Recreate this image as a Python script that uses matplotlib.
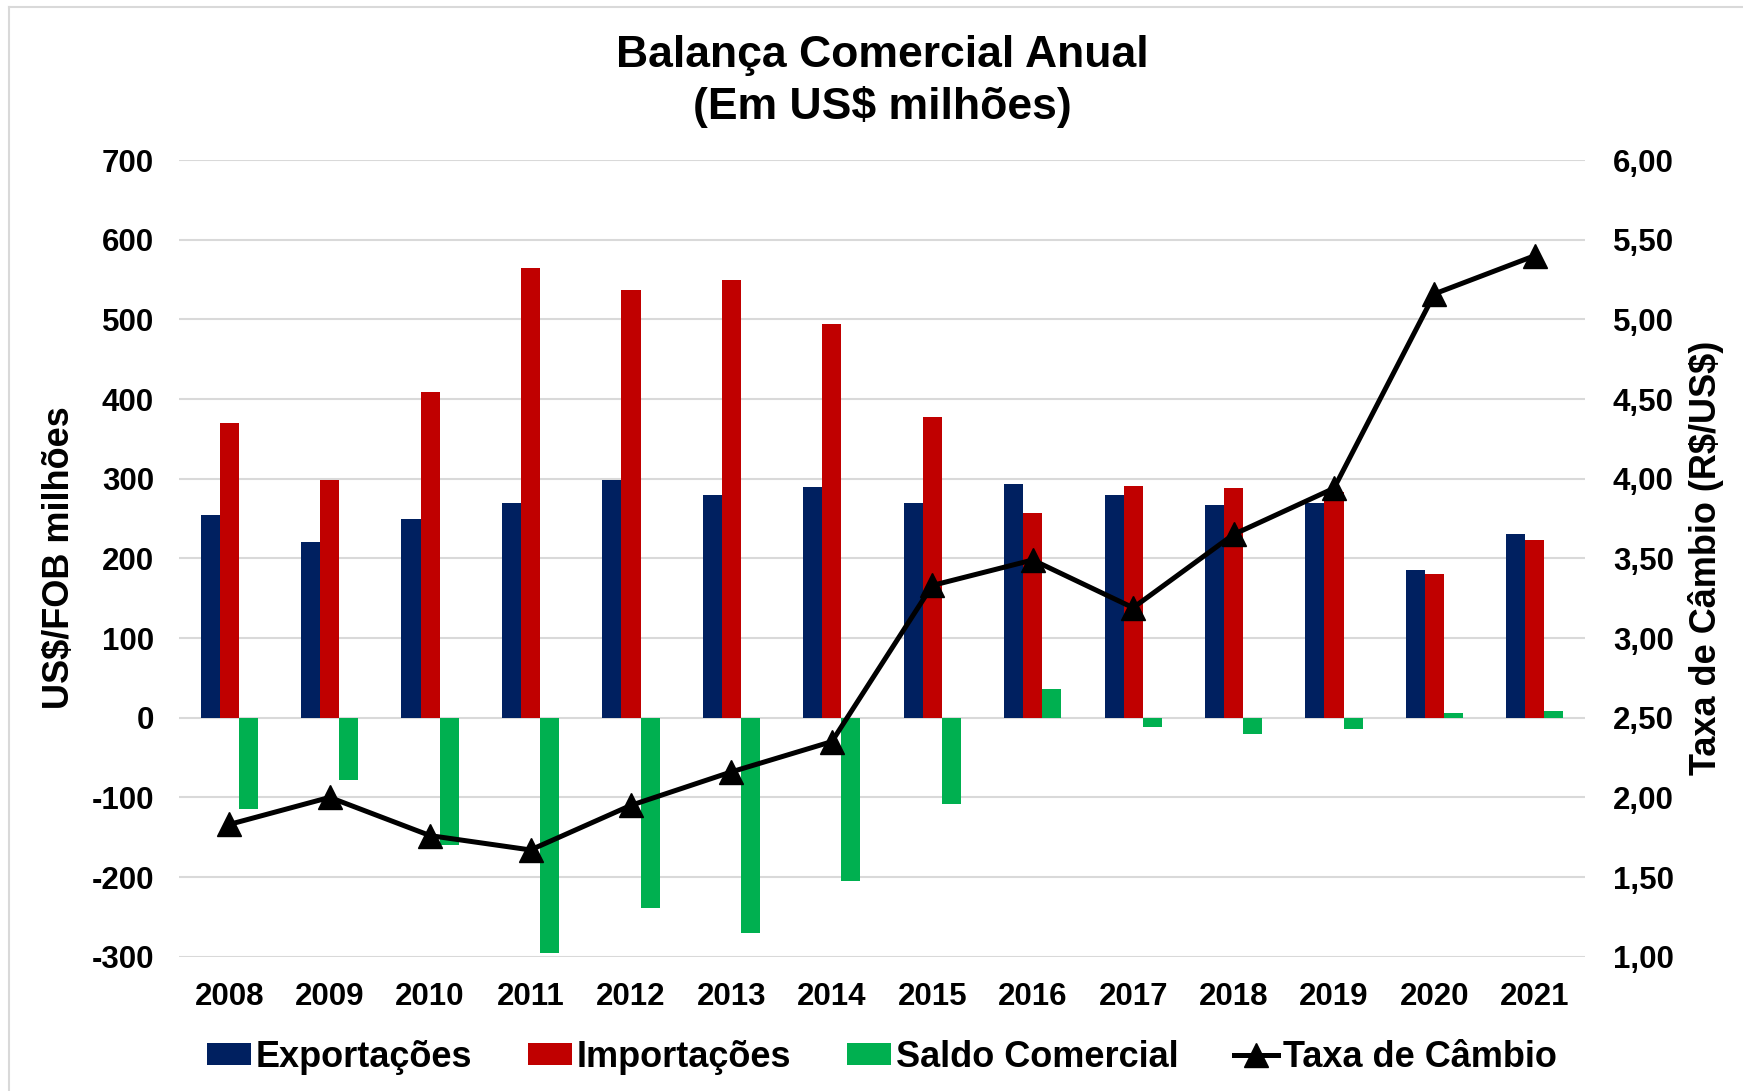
import matplotlib
matplotlib.use("Agg")
import matplotlib.pyplot as plt
from matplotlib.lines import Line2D
from matplotlib.ticker import FuncFormatter, MultipleLocator
import numpy as np

plt.rcParams['font.family'] = ['Liberation Sans', 'DejaVu Sans']
plt.rcParams['font.weight'] = 'bold'
plt.rcParams['axes.unicode_minus'] = False

years = ['2008', '2009', '2010', '2011', '2012', '2013', '2014',
         '2015', '2016', '2017', '2018', '2019', '2020', '2021']
exportacoes = [255, 220, 249, 269, 298, 279, 289, 270, 293, 279, 267, 269, 186, 231]
importacoes = [370, 298, 409, 564, 537, 549, 494, 378, 257, 291, 288, 283, 180, 223]
saldo = [-115, -78, -160, -295, -239, -270, -205, -108, 36, -12, -21, -14, 6, 8]
cambio = [1.83, 2.00, 1.76, 1.67, 1.95, 2.16, 2.35, 3.33, 3.49, 3.19, 3.65, 3.94, 5.16, 5.40]

c_exp = '#002060'
c_imp = '#C00000'
c_sal = '#00B050'
grid_c = '#D9D9D9'

fig = plt.figure(figsize=(17.43, 10.91), dpi=100)
ax = fig.add_axes([0.1027, 0.1231, 0.8067, 0.7302])
ax2 = ax.twinx()

x = np.arange(len(years))
w = 0.19
ax.bar(x - w, exportacoes, w, color=c_exp, label='Exportações', zorder=3)
ax.bar(x, importacoes, w, color=c_imp, label='Importações', zorder=3)
ax.bar(x + w, saldo, w, color=c_sal, label='Saldo Comercial', zorder=3)

ax.set_xlim(-0.5, len(years) - 0.5)
ax.set_ylim(-300, 700)
ax.yaxis.set_major_locator(MultipleLocator(100))
ax.grid(axis='y', color=grid_c, linewidth=1.5, zorder=0)
ax.set_axisbelow(True)
for s in ax.spines.values():
    s.set_visible(False)
for s in ax2.spines.values():
    s.set_visible(False)

ax.set_xticks(x)
ax.set_xticklabels(years)
ax.tick_params(axis='x', length=0, pad=18, labelsize=22.5)
ax.tick_params(axis='y', length=0, pad=18, labelsize=22.5)

ax2.plot(x, cambio, color='black', linewidth=3.6, marker='^', markersize=17,
         label='Taxa de Câmbio', zorder=5)
ax2.set_ylim(1.0, 6.0)
ax2.yaxis.set_major_locator(MultipleLocator(0.5))
ax2.yaxis.set_major_formatter(FuncFormatter(lambda v, p: f"{v:.2f}".replace('.', ',')))
ax2.tick_params(axis='y', length=0, pad=20, labelsize=22.5)

fig.text(0.506, 0.925, 'Balança Comercial Anual\n(Em US\\$ milhões)', ha='center', va='center',
         fontsize=32, fontweight='bold', linespacing=1.3)
fig.text(0.034, 0.4886, 'US\\$/FOB milhões', rotation=90, ha='center', va='center',
         fontsize=26, fontweight='bold')
fig.text(0.979, 0.4886, 'Taxa de Câmbio (R\\$/US\\$)', rotation=90, ha='center', va='center',
         fontsize=26, fontweight='bold')

h1, l1 = ax.get_legend_handles_labels()
h2, l2 = ax2.get_legend_handles_labels()
fig.legend(h1 + h2, l1 + l2, loc='center', bbox_to_anchor=(0.506, 0.031), ncol=4,
           frameon=False, fontsize=26, handlelength=1.2, handleheight=0.55,
           handletextpad=0.14, columnspacing=1.55, borderpad=0)

# chart area border
fig.add_artist(Line2D([9 / 1743, 9 / 1743], [0, 1 - 7.3 / 1091], color=grid_c, linewidth=1.5,
                      transform=fig.transFigure))
fig.add_artist(Line2D([9 / 1743, 1], [1 - 7.3 / 1091, 1 - 7.3 / 1091], color=grid_c, linewidth=1.5,
                      transform=fig.transFigure))

fig.savefig('out.png', dpi=100, facecolor='white')
